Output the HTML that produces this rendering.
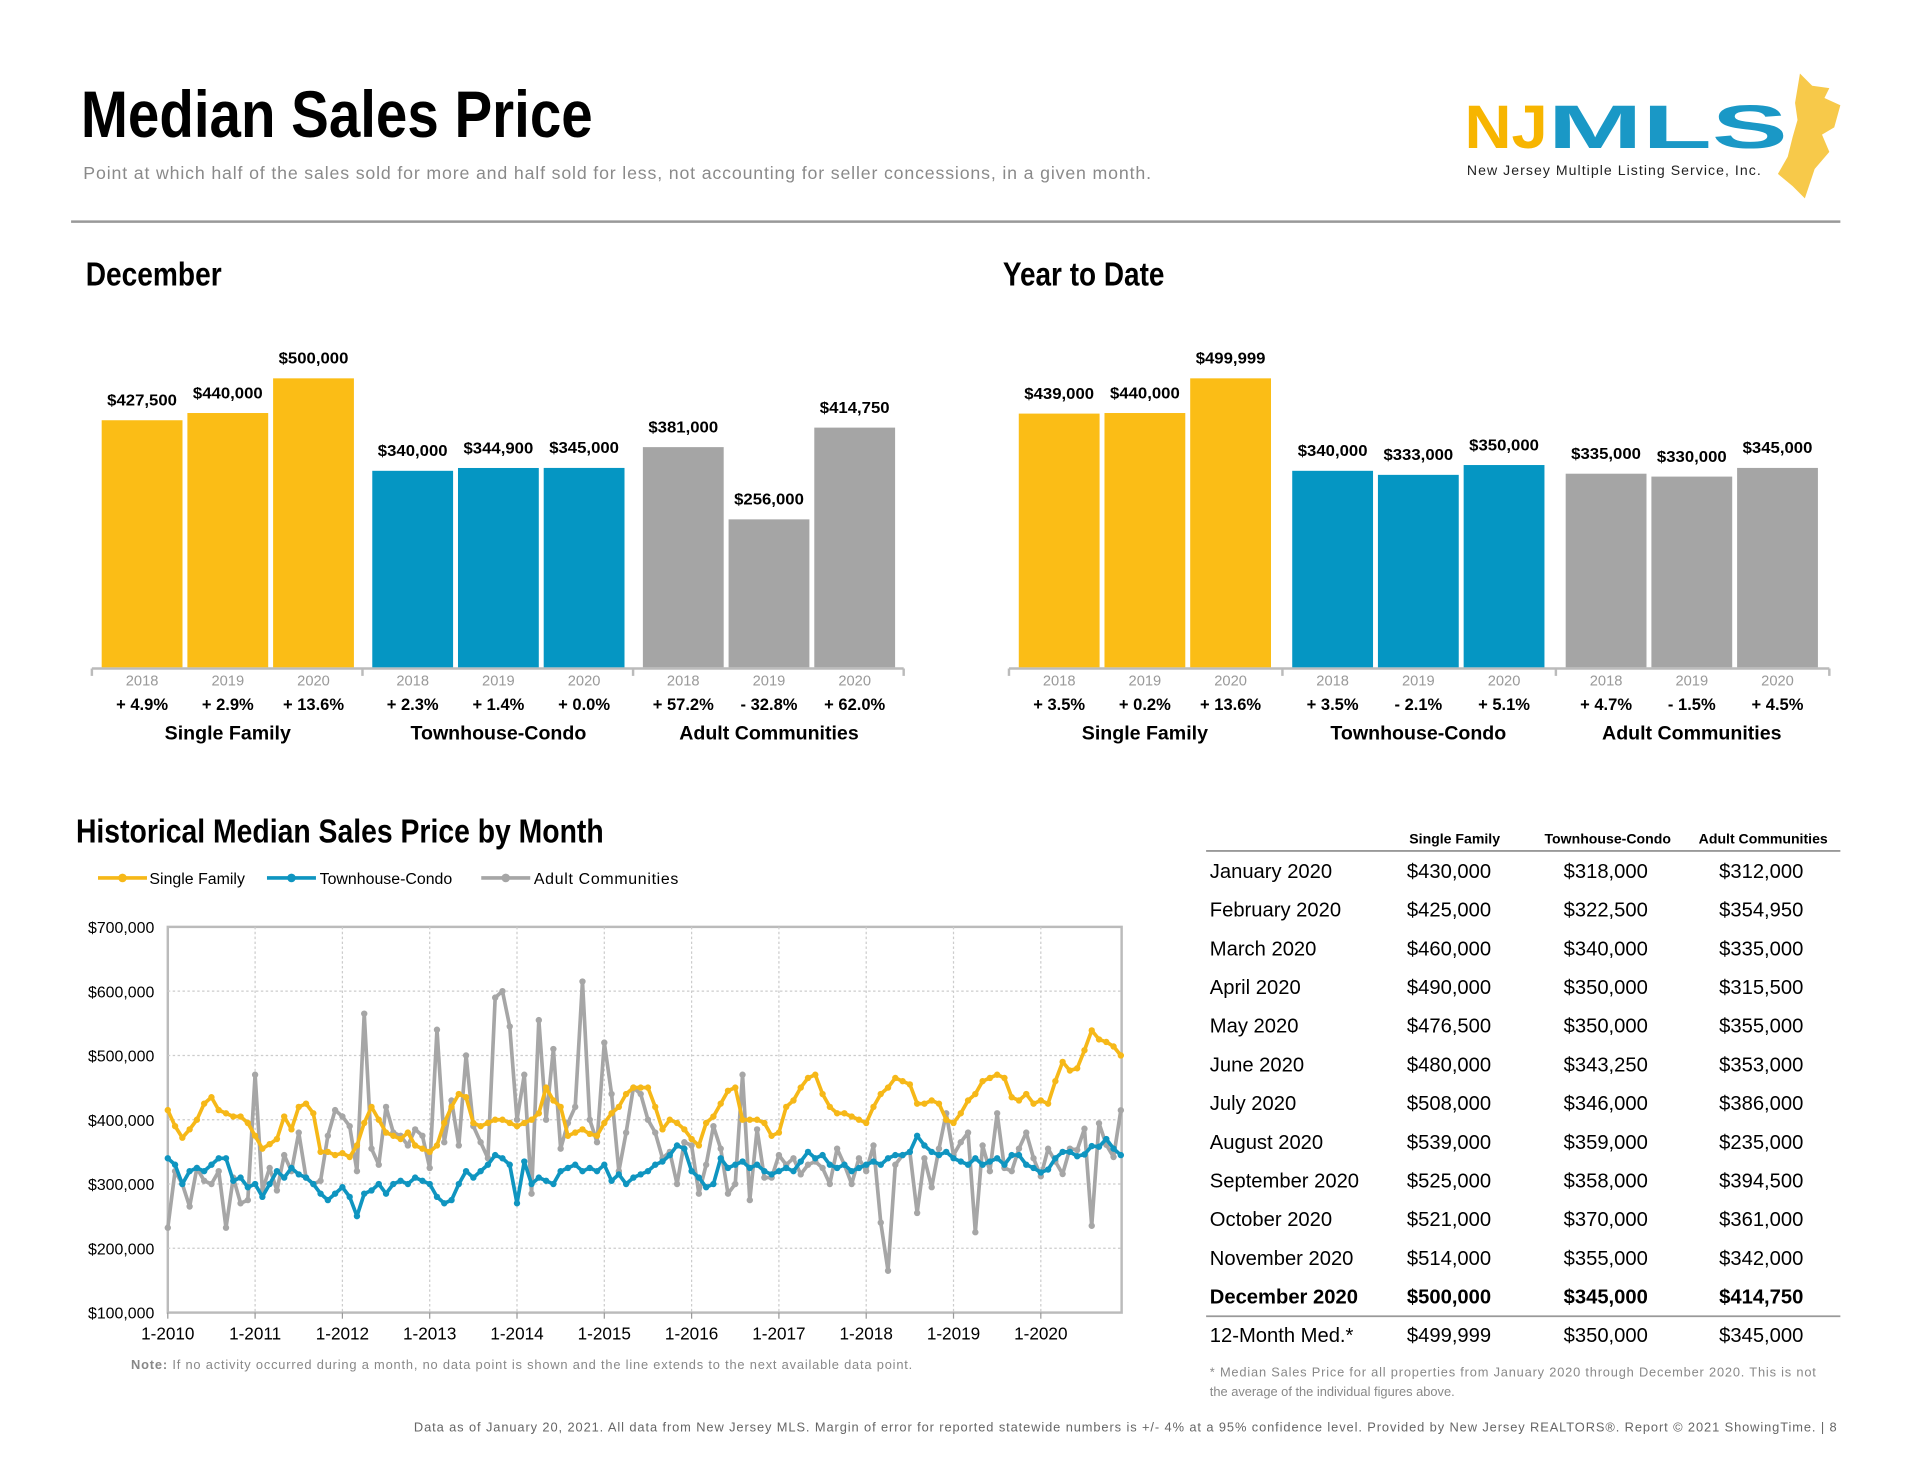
<!DOCTYPE html>
<html><head><meta charset="utf-8"><style>
html,body{margin:0;padding:0;background:#fff;width:1920px;height:1484px;overflow:hidden}
svg{display:block;font-family:"Liberation Sans",sans-serif}
.cond{font-family:"Liberation Sans Narrow","Liberation Sans",sans-serif}
</style></head><body>
<svg id="page" width="1920" height="1484" viewBox="0 0 1568 1212" xmlns="http://www.w3.org/2000/svg">
<text x="66" y="112" class="cond" font-size="54" font-weight="bold" fill="#000" textLength="418" lengthAdjust="spacingAndGlyphs">Median Sales Price</text>
<text x="68" y="146" font-size="14.5" fill="#8a8a8a" textLength="872">Point at which half of the sales sold for more and half sold for less, not accounting for seller concessions, in a given month.</text>
<g>
<path d="M1470 60 L1480 70 L1494 72 L1490 80 L1503 86 L1498 104 L1488 110 L1494 124 L1482 138 L1474 162 L1464 152 L1452 142 L1460 128 L1464 112 L1468 98 L1466 84 Z" fill="#f7c94a"/>
<text x="1196" y="121" font-size="50" font-weight="900" fill="#f7b500" textLength="68" lengthAdjust="spacingAndGlyphs">NJ</text>
<text x="1264" y="121" font-size="50" font-weight="900" fill="#1a98c6" textLength="196" lengthAdjust="spacingAndGlyphs">MLS</text>
<text x="1198" y="143" font-size="11.5" fill="#222" textLength="240">New Jersey Multiple Listing Service, Inc.</text>
</g>
<line x1="58" y1="181" x2="1503" y2="181" stroke="#999" stroke-width="2"/>
<text x="70" y="233" class="cond" font-size="27" font-weight="bold" textLength="111" lengthAdjust="spacingAndGlyphs">December</text>
<text x="819" y="233" class="cond" font-size="27" font-weight="bold" textLength="132" lengthAdjust="spacingAndGlyphs">Year to Date</text>
<g id="dec"></g>
<g id="ytd"></g>
<text x="62" y="688" class="cond" font-size="27" font-weight="bold" textLength="431" lengthAdjust="spacingAndGlyphs">Historical Median Sales Price by Month</text>
<g font-size="13">
<line x1="80" y1="717" x2="120" y2="717" stroke="#f6b818" stroke-width="3"/><circle cx="100" cy="717" r="3.5" fill="#f6b818"/><text x="122" y="722">Single Family</text>
<line x1="218" y1="717" x2="258" y2="717" stroke="#0f95c0" stroke-width="3"/><circle cx="238" cy="717" r="3.5" fill="#0f95c0"/><text x="261" y="722">Townhouse-Condo</text>
<line x1="393" y1="717" x2="433" y2="717" stroke="#a6a6a6" stroke-width="3"/><circle cx="413" cy="717" r="3.5" fill="#a6a6a6"/><text x="436" y="722" textLength="118">Adult Communities</text>
</g>
<g id="line"></g>
<text x="107" y="1118" font-size="10.5" fill="#888" textLength="638"><tspan font-weight="bold">Note:</tspan> If no activity occurred during a month, no data point is shown and the line extends to the next available data point.</text>
<g id="tbl"></g>
<text x="988" y="1124" font-size="10.5" fill="#888" textLength="495">* Median Sales Price for all properties from January 2020 through December 2020. This is not</text>
<text x="988" y="1140" font-size="10.5" fill="#888">the average of the individual figures above.</text>
<text x="338" y="1169" font-size="10.5" fill="#666" textLength="1162">Data as of January 20, 2021. All data from New Jersey MLS. Margin of error for reported statewide numbers is +/- 4% at a 95% confidence level. Provided by New Jersey REALTORS®. Report © 2021 ShowingTime.  |  8</text>
</svg>
<script>
const NS="http://www.w3.org/2000/svg";
const groups=["Single Family","Townhouse-Condo","Adult Communities"];
const years=["2018","2019","2020"];
const decValues=[427500,440000,500000,340000,344900,345000,381000,256000,414750];
const decChanges=["+ 4.9%","+ 2.9%","+ 13.6%","+ 2.3%","+ 1.4%","+ 0.0%","+ 57.2%","- 32.8%","+ 62.0%"];
const ytdValues=[439000,440000,499999,340000,333000,350000,335000,330000,345000];
const ytdChanges=["+ 3.5%","+ 0.2%","+ 13.6%","+ 3.5%","- 2.1%","+ 5.1%","+ 4.7%","- 1.5%","+ 4.5%"];
const months=["January 2020","February 2020","March 2020","April 2020","May 2020","June 2020","July 2020","August 2020","September 2020","October 2020","November 2020","December 2020","12-Month Med.*"];
const tSF=["$430,000","$425,000","$460,000","$490,000","$476,500","$480,000","$508,000","$539,000","$525,000","$521,000","$514,000","$500,000","$499,999"];
const tTC=["$318,000","$322,500","$340,000","$350,000","$350,000","$343,250","$346,000","$359,000","$358,000","$370,000","$355,000","$345,000","$350,000"];
const tAC=["$312,000","$354,950","$335,000","$315,500","$355,000","$353,000","$386,000","$235,000","$394,500","$361,000","$342,000","$414,750","$345,000"];
const xTicks=["1-2010","1-2011","1-2012","1-2013","1-2014","1-2015","1-2016","1-2017","1-2018","1-2019","1-2020"];
const yTicks=[100000,200000,300000,400000,500000,600000,700000];
const sfSeries=[415,390,372,385,400,425,435,415,410,405,405,395,375,355,362,370,405,385,420,425,410,350,350,345,348,342,360,395,420,400,380,375,370,380,360,355,350,360,395,420,440,435,395,390,395,400,400,395,390,395,400,410,450,430,420,375,380,385,378,375,395,410,420,440,450,450,450,420,385,400,395,385,370,360,395,405,425,445,450,400,400,400,395,375,380,420,430,450,465,470,440,420,410,410,405,400,395,420,440,450,465,460,455,425,425,430,425,400,395,410,430,440,460,465,470,465,435,430,440,425,430,425,460,490,476.5,480,508,539,525,521,514,500];
const tcSeries=[340,330,300,320,325,320,330,340,340,305,310,295,300,280,300,320,310,325,315,310,300,285,275,285,295,280,250,285,290,300,285,300,305,300,310,305,300,280,270,275,300,320,310,320,330,345,340,330,270,335,300,310,305,300,320,325,330,320,325,320,330,305,315,300,310,315,320,330,335,345,360,355,320,310,295,300,340,325,330,335,325,330,320,315,320,325,320,335,350,340,345,330,325,330,320,325,330,335,330,340,345,345,350,375,360,350,345,350,340,335,330,340,330,335,340,330,345,345,330,325,318,322.5,340,350,350,343.25,346,359,358,370,355,345];
const acSeries=[232,320,300,265,325,305,300,320,232,310,270,275,470,290,325,290,345,320,380,310,300,305,375,415,405,390,320,565,355,330,420,380,375,360,385,375,325,540,365,430,360,500,390,365,340,590,600,545,400,470,285,555,400,510,355,395,420,615,400,365,520,440,320,380,450,440,400,380,340,350,300,365,360,285,330,390,355,285,300,470,275,385,310,310,345,330,340,315,330,335,325,300,355,330,300,340,320,360,240,165,330,345,350,255,340,295,355,410,345,365,380,225,360,320,410,325,320,355,380,340,312,354.95,335,315.5,355,353,386,235,394.5,361,342,414.75];
const barColors=["#fbbd16","#0596c3","#a5a5a5"];
function mk(tag,attrs,parent,txt){const e=document.createElementNS(NS,tag);for(const k in attrs)e.setAttribute(k,attrs[k]);if(txt!==undefined)e.textContent=txt;parent.appendChild(e);return e;}
function fmt(v){return "$"+v.toLocaleString("en-US");}
function barChart(gid,vals,chg,x0,axL,axR){
  const g=document.getElementById(gid);const base=545,k=236/500000;
  const y=v=>base-v*k;
  const a=mk("line",{x1:axL,y1:546,x2:axR,y2:546,stroke:"#bbb","stroke-width":2},g);
  
  
  const gw=(axR-axL)/3;
  for(let t=0;t<4;t++){mk("line",{x1:axL+t*gw,y1:546,x2:axL+t*gw,y2:552,stroke:"#bbb","stroke-width":2},g);}
  vals.forEach((v,i)=>{
    const gi=Math.floor(i/3),bi=i%3;
    const bx=x0+gi*gw+bi*70;
    const r=mk("rect",{x:bx,y:y(v),width:66,height:v*k,fill:barColors[gi]},g);
    
    
    const l=mk("text",{x:bx+33,y:y(v)-12,"font-size":13,"font-weight":"bold","text-anchor":"middle",class:"cond",textLength:57,lengthAdjust:"spacingAndGlyphs"},g,fmt(v));
    
    
    const yl=mk("text",{x:bx+33,y:560,"font-size":12,fill:"#999","text-anchor":"middle"},g,years[bi]);
    
    
    const pl=mk("text",{x:bx+33,y:580,"font-size":13.5,"font-weight":"bold","text-anchor":"middle"},g,chg[i]);
    
    
  });
  groups.forEach((n,gi)=>{
    const c=mk("text",{x:x0+gi*gw+103,y:604,"font-size":16,"font-weight":"bold","text-anchor":"middle"},g,n);
    
    
  });
}
barChart("dec",decValues,decChanges,83,75,738);
barChart("ytd",ytdValues,ytdChanges,832,824,1494);
(function(){
  const g=document.getElementById("line");
  const L=137,R=916,T=757,B=1072;
  const xs=i=>L+i*(850-L)/120;
  const ys=v=>B-(v-100000)*(B-T)/600000;
  mk("rect",{x:L,y:T,width:R-L,height:B-T,fill:"none",stroke:"#bbb","stroke-width":2},g);
  yTicks.forEach(v=>{
    if(v>100000&&v<700000)mk("line",{x1:L,y1:ys(v),x2:R,y2:ys(v),stroke:"#ccc","stroke-dasharray":"2,2"},g);
    const t=mk("text",{x:126,y:ys(v)+5,"font-size":13,"text-anchor":"end"},g,fmt(v));
    
    
  });
  xTicks.forEach((s,i)=>{
    const x=xs(i*12);
    if(i>0)mk("line",{x1:x,y1:T,x2:x,y2:B,stroke:"#ccc","stroke-dasharray":"2,2"},g);
    mk("line",{x1:x,y1:B,x2:x,y2:B+5,stroke:"#999"},g);
    const t=mk("text",{x:x,y:1094,"font-size":14,"text-anchor":"middle"},g,s);
    
    
  });
  [[acSeries,"#a6a6a6","adult-communities"],[tcSeries,"#0f95c0","townhouse-condo"],[sfSeries,"#f6b818","single-family"]].forEach(([s,c,n])=>{
    const p=mk("polyline",{points:s.map((v,i)=>xs(i)+","+ys(v*1000)).join(" "),fill:"none",stroke:c,"stroke-width":3,"stroke-linejoin":"round"},g);
    
    
    s.forEach((v,i)=>{const d=mk("circle",{cx:xs(i),cy:ys(v*1000),r:2.6,fill:c},g);
      
      });
  });
})();
(function(){
  const g=document.getElementById("tbl");
  const hdr=[["Single Family",1188],["Townhouse-Condo",1313],["Adult Communities",1440]];
  hdr.forEach(([h,x])=>{const t=mk("text",{x:x,y:689,"font-size":11.5,"font-weight":"bold","text-anchor":"middle"},g,h);
    
    });
  mk("line",{x1:985,y1:695,x2:1503,y2:695,stroke:"#999","stroke-width":1.5},g);
  mk("line",{x1:985,y1:1075,x2:1503,y2:1075,stroke:"#999","stroke-width":1.5},g);
  months.forEach((m,i)=>{
    const y=717+i*31.6;const bold=i===11?"bold":"normal";
    const row=mk("g",{"font-size":16.5,"font-weight":bold},g);
    
    
    mk("text",{x:988,y:y},row,m);
    mk("text",{x:1149,y:y},row,tSF[i]);
    mk("text",{x:1277,y:y},row,tTC[i]);
    mk("text",{x:1404,y:y},row,tAC[i]);
  });
})();
</script>
</body></html>
